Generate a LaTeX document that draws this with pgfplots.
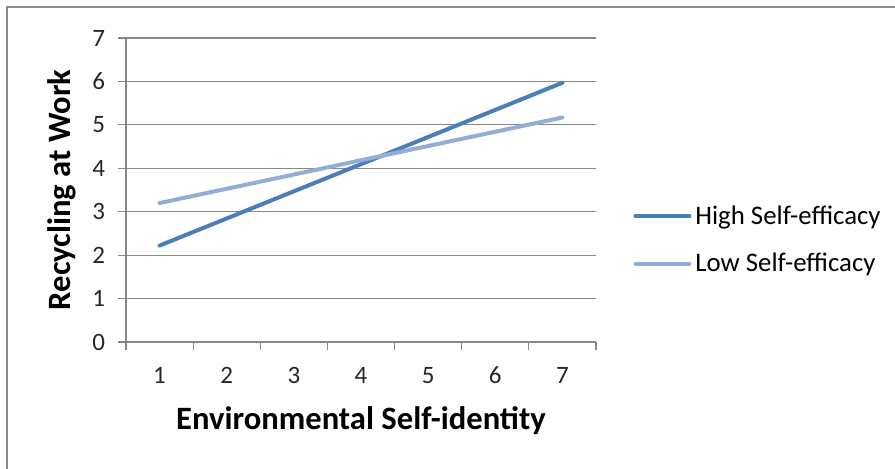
\documentclass[border=0pt]{standalone}
\usepackage{fontspec}
\setmainfont{Carlito}
\usepackage{pgfplots}
\pgfplotsset{compat=1.18}

\definecolor{highblue}{HTML}{4A7EBB}
\definecolor{lowblue}{HTML}{93ADD6}
\definecolor{gridgray}{HTML}{878787}
\definecolor{framegray}{HTML}{8C8C8C}

\begin{document}
\begin{tikzpicture}
% page extent and chart-area frame
\path[use as bounding box] (-63pt,-63pt) rectangle (384.5pt,171pt);
\draw[framegray, line width=0.9pt] (-59.5pt,-80pt) -- (-59.5pt,167.5pt) -- (400pt,167.5pt);

\begin{axis}[
  at={(0,0)}, anchor=south west,
  width=235pt, height=152pt, scale only axis,
  xmin=0.5, xmax=7.5, ymin=0, ymax=7,
  axis x line*=bottom, axis y line*=left,
  axis line style={gridgray, line width=0.6pt, -},
  xtick={0.5,1.5,...,7.5},
  xticklabels={1,2,3,4,5,6,7},
  x tick label as interval,
  ytick={0,1,...,7},
  tick align=outside,
  major tick length=4pt,
  tick style={gridgray, line width=0.6pt},
  ymajorgrids,
  grid style={gridgray, line width=0.6pt},
  /pgf/number format/assume math mode=true,
  tick label style={font=\fontsize{12.5}{14}\selectfont, text=black!85},
  xticklabel style={yshift=-5pt},
  yticklabel style={xshift=-3pt},
  xlabel={\textbf{Environmental Self-identity}},
  ylabel={\textbf{Recycling at Work}},
  label style={font=\fontsize{16.3}{18}\selectfont},
  xlabel style={at={(axis description cs:0.5,-0.26)}, anchor=center},
  ylabel style={at={(axis description cs:-0.136,0.5)}, anchor=center},
  legend style={at={(1,0.5)}, anchor=west, xshift=15.5pt, yshift=-25pt, draw=none, fill=none,
    font=\fontsize{13.4}{15}\selectfont, row sep=9pt,
    /tikz/every even column/.append style={column sep=0pt}},
  legend cell align=left,
  legend image code/.code={\draw[#1, line cap=round] (0pt,0pt) -- (27pt,0pt);},
  clip=false,
]
\addplot[highblue, line width=2pt, line cap=round] coordinates {(1,2.22) (7,5.97)};
\addlegendentry{High Self-efficacy}
\addplot[lowblue, line width=2pt, line cap=round] coordinates {(1,3.20) (7,5.17)};
\addlegendentry{Low Self-efficacy}
\end{axis}
\end{tikzpicture}
\end{document}
